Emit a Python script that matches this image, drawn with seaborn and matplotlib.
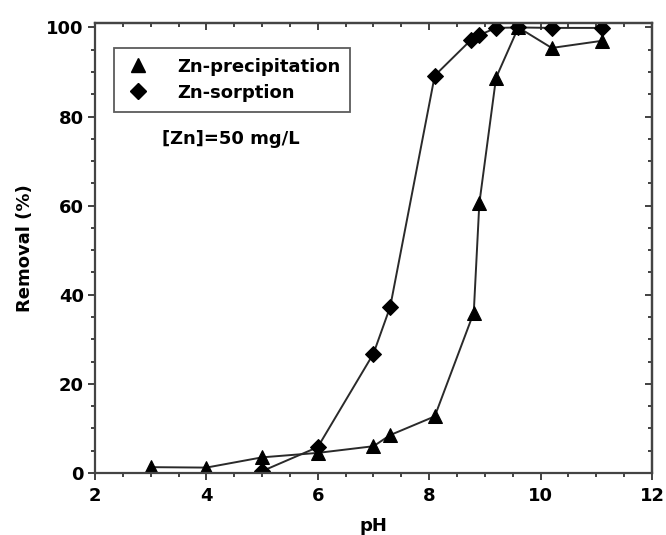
import matplotlib
matplotlib.use("Agg")
import matplotlib.pyplot as plt
from matplotlib.ticker import MultipleLocator
from matplotlib.lines import Line2D
import seaborn as sns
import pandas as pd

# Zn removal versus pH
ph_precip = [3.0, 4.0, 5.0, 6.0, 7.0, 7.3, 8.1, 8.8, 8.9, 9.2, 9.6, 10.2, 11.1]
removal_precip = [1.3, 1.2, 3.5, 4.5, 6.0, 8.5, 12.7, 36.0, 60.5, 88.7, 100.0, 95.4, 97.0]

ph_sorp = [5.0, 6.0, 7.0, 7.3, 8.1, 8.75, 8.9, 9.2, 9.6, 10.2, 11.1]
removal_sorp = [0.4, 5.8, 26.8, 37.3, 89.2, 97.2, 98.3, 99.9, 100.0, 99.9, 99.9]

series_names = ["Zn-precipitation", "Zn-sorption"]
annotation = "[Zn]=50 mg/L"

df = pd.concat([
    pd.DataFrame({"pH": ph_precip, "Removal": removal_precip, "series": series_names[0]}),
    pd.DataFrame({"pH": ph_sorp, "Removal": removal_sorp, "series": series_names[1]}),
], ignore_index=True)

sns.set_style("white")
plt.rcParams["font.family"] = ["DejaVu Sans"]
plt.rcParams["font.weight"] = "bold"
plt.rcParams["text.color"] = "black"
plt.rcParams["axes.labelcolor"] = "black"
plt.rcParams["xtick.labelcolor"] = "black"
plt.rcParams["ytick.labelcolor"] = "black"

fig = plt.figure(figsize=(6.66, 5.35), dpi=100)
ax = fig.add_axes([0.1426, 0.116, 0.979 - 0.1426, 0.957 - 0.116])

markers = {series_names[0]: "^", series_names[1]: "D"}
sizes_ms = {series_names[0]: 10.5, series_names[1]: 8.5}
for name in series_names:
    sub = df[df["series"] == name]
    sns.lineplot(data=sub, x="pH", y="Removal", ax=ax, sort=False,
                 color="#2a2a2a", linewidth=1.4, marker=markers[name],
                 markersize=sizes_ms[name], markerfacecolor="black",
                 markeredgecolor="black", estimator=None, legend=False)

ax.set_xlim(2, 12)
ax.set_ylim(0, 101)
ax.xaxis.set_major_locator(MultipleLocator(2))
ax.xaxis.set_minor_locator(MultipleLocator(0.5))
ax.yaxis.set_major_locator(MultipleLocator(20))
ax.yaxis.set_minor_locator(MultipleLocator(5))

ax.tick_params(which="both", direction="out", top=False, right=False,
               bottom=True, left=True, color="#333333", width=1.3)
ax.tick_params(which="major", length=5, labelsize=13, labelcolor="black")
ax.tick_params(axis="x", which="major", pad=5)
ax.tick_params(axis="y", which="major", pad=3)
ax.tick_params(which="minor", length=3)
for lab in ax.get_xticklabels() + ax.get_yticklabels():
    lab.set_fontweight("bold")

# mirrored inward ticks on top and right
top = ax.secondary_xaxis("top")
top.xaxis.set_major_locator(MultipleLocator(2))
top.xaxis.set_minor_locator(MultipleLocator(0.5))
top.tick_params(which="both", direction="in", labeltop=False, color="#333333", width=1.3)
top.tick_params(which="major", length=5)
top.tick_params(which="minor", length=3)
right = ax.secondary_yaxis("right")
right.yaxis.set_major_locator(MultipleLocator(20))
right.yaxis.set_minor_locator(MultipleLocator(5))
right.tick_params(which="both", direction="in", labelright=False, color="#333333", width=1.3)
right.tick_params(which="major", length=5)
right.tick_params(which="minor", length=3)

for sp in list(ax.spines.values()) + [top.spines["top"], right.spines["right"]]:
    sp.set_color("#444444")
    sp.set_linewidth(1.6)

ax.set_xlabel("pH", fontsize=13, fontweight="bold", labelpad=9, color="black")
ax.set_ylabel("Removal (%)", fontsize=13, fontweight="bold", labelpad=9, color="black")

handles = [Line2D([], [], linestyle="none", marker=markers[n], markersize=sizes_ms[n],
                  color="black") for n in series_names]
leg = ax.legend(handles, series_names, loc="upper left", bbox_to_anchor=(0.034, 0.945),
                frameon=True, fancybox=False, fontsize=13, handletextpad=1.35,
                borderpad=0.55, labelspacing=0.45, handlelength=1.6, borderaxespad=0)
leg.get_frame().set_edgecolor("#333333")
leg.get_frame().set_linewidth(1.3)
for t in leg.get_texts():
    t.set_fontweight("bold")
    t.set_color("black")

ax.text(0.12, 0.743, annotation, transform=ax.transAxes, fontsize=13,
        fontweight="bold", ha="left", va="center", color="black")

fig.savefig("out.png", dpi=100)
